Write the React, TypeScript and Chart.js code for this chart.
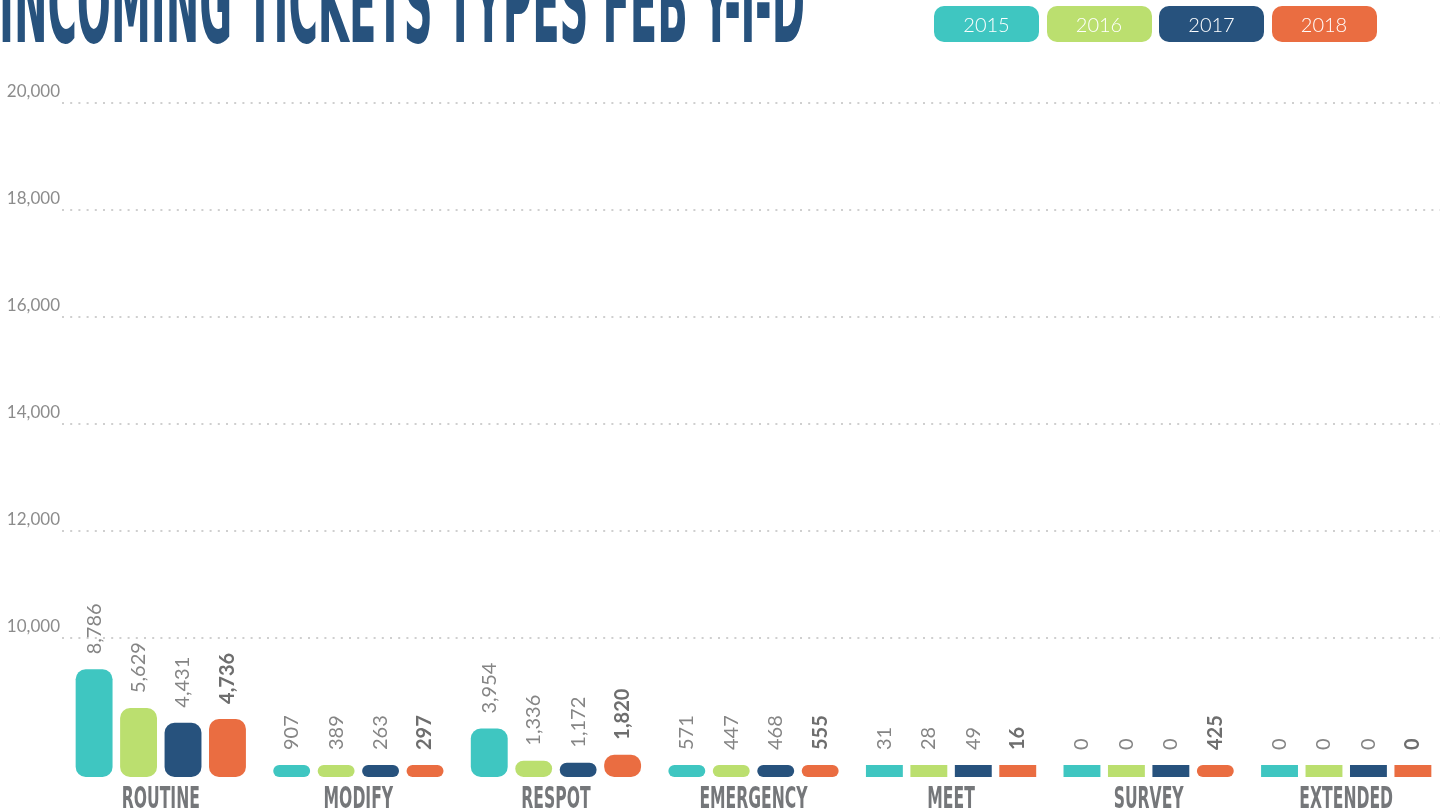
import React, { useEffect, useRef } from "react";
import { Chart, registerables } from "chart.js";

Chart.register(...registerables);

const title = "INCOMING TICKETS TYPES FEB Y-T-D";
const categories = ["ROUTINE", "MODIFY", "RESPOT", "EMERGENCY", "MEET", "SURVEY", "EXTENDED"];
const years = ["2015", "2016", "2017", "2018"];
const values2015 = [8786, 907, 3954, 571, 31, 0, 0];
const values2016 = [5629, 389, 1336, 447, 28, 0, 0];
const values2017 = [4431, 263, 1172, 468, 49, 0, 0];
const values2018 = [4736, 297, 1820, 555, 16, 425, 0];
const yTickValues = [10000, 12000, 14000, 16000, 18000, 20000];
const colors = ["#3fc6c1", "#bbdf6f", "#27527d", "#ea6d41"];

const seriesValues = [values2015, values2016, values2017, values2018];

const valueLabels = {
  id: "valueLabels",
  afterDatasetsDraw(chart: any) {
    const ctx = chart.ctx;
    chart.data.datasets.forEach((ds: any, di: number) => {
      const meta = chart.getDatasetMeta(di);
      const bold = di === chart.data.datasets.length - 1;
      meta.data.forEach((el: any, i: number) => {
        const v = ds.data[i] as number;
        ctx.save();
        ctx.translate(el.x, Math.min(el.y, el.base) - 15);
        ctx.rotate(-Math.PI / 2);
        ctx.font = `${bold ? "bold" : "normal"} 20px Lato, sans-serif`;
        ctx.fillStyle = bold ? "#6e6e6e" : "#858585";
        ctx.textAlign = "left";
        ctx.textBaseline = "middle";
        ctx.fillText(v.toLocaleString("en-US"), 0, 0);
        ctx.restore();
      });
    });
  },
};

const categoryLabels = {
  id: "categoryLabels",
  afterDraw(chart: any) {
    const xs = chart.scales.x;
    const ctx = chart.ctx;
    const y = chart.chartArea.bottom + 31;
    (chart.data.labels as string[]).forEach((c, i) => {
      const x = xs.getPixelForValue(i);
      ctx.save();
      ctx.translate(x, y);
      ctx.scale(0.56, 1);
      ctx.font = 'bold 31px "DejaVu Sans Condensed", "DejaVu Sans", sans-serif';
      ctx.fillStyle = "#75777a";
      ctx.textAlign = "center";
      ctx.textBaseline = "alphabetic";
      ctx.fillText(c, 0, 0);
      ctx.restore();
    });
  },
};

export default function App() {
  const ref = useRef<HTMLCanvasElement | null>(null);

  useEffect(() => {
    if (!ref.current) return;
    const chart = new Chart(ref.current, {
      type: "bar",
      data: {
        labels: categories,
        datasets: seriesValues.map((d, i) => ({
          label: years[i],
          data: d,
          backgroundColor: colors[i],
          yAxisID: "y2",
          borderRadius: (c: any) => ((c.raw ?? 0) < 100 ? 0 : 10),
          borderSkipped: false,
          minBarLength: 12,
          categoryPercentage: 0.9,
          barPercentage: 0.83,
        })),
      },
      options: {
        responsive: false,
        animation: false,
        layout: { padding: { top: 103, bottom: 27, left: 0, right: 1 } },
        plugins: {
          legend: { display: false },
          tooltip: { enabled: false },
          title: { display: false },
        },
        scales: {
          x: {
            grid: { display: false },
            ticks: { display: false },
            border: { display: false },
          },
          y: {
            position: "left",
            min: 7400,
            max: 20000,
            afterBuildTicks: (s: any) => {
              s.ticks = yTickValues.map((v) => ({ value: v }));
            },
            afterFit: (s: any) => {
              s.width = 62;
            },
            grid: { color: "#cfcfcf", lineWidth: 2, drawTicks: false },
            border: { display: false, dash: [2, 6.2] },
            ticks: {
              padding: 2,
              labelOffset: -11,
              color: "#8c8c8c",
              font: { family: "Lato", size: 17 },
              callback: (v: any) => Number(v).toLocaleString("en-US"),
            },
          },
          y2: { display: false, min: 0, max: 55000 },
        },
      } as any,
      plugins: [valueLabels, categoryLabels],
    });
    return () => chart.destroy();
  }, []);

  return (
    <div
      style={{
        position: "fixed",
        left: 0,
        top: 0,
        width: 1440,
        height: 812,
        overflow: "hidden",
        background: "#ffffff",
      }}
    >
      <canvas ref={ref} width={1446} height={812} style={{ position: "absolute", left: 0, top: 0 }} />
      <svg width={1440} height={60} style={{ position: "absolute", left: 0, top: 0 }}>
        <text
          x={-1}
          y={42}
          textLength={806}
          lengthAdjust="spacingAndGlyphs"
          fill="#27527d"
          fontFamily='"DejaVu Sans Condensed", "DejaVu Sans", sans-serif'
          fontWeight="bold"
          fontSize={110}
        >
          {title}
        </text>
      </svg>
      <div style={{ position: "absolute", left: 934, top: 6, display: "flex", gap: 7.5 }}>
        {years.map((y, i) => (
          <div
            key={y}
            style={{
              width: 105,
              height: 35.5,
              borderRadius: 10,
              background: colors[i],
              color: "#ffffff",
              fontFamily: "Lato, sans-serif",
              fontWeight: 300,
              fontSize: 20,
              display: "flex",
              alignItems: "center",
              justifyContent: "center",
            }}
          >
            {y}
          </div>
        ))}
      </div>
    </div>
  );
}
